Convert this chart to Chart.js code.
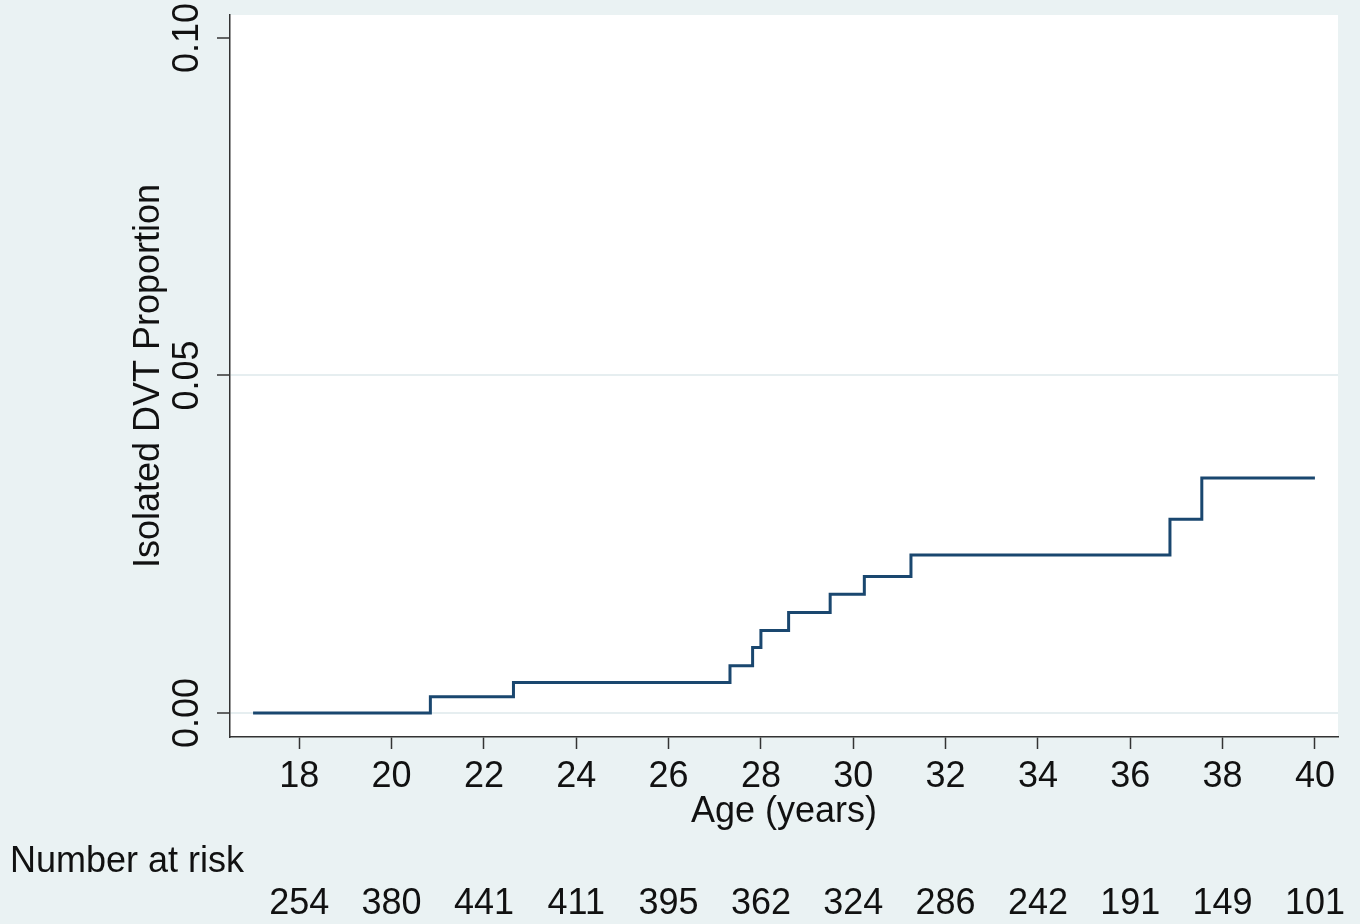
<!DOCTYPE html>
<html>
<head>
<meta charset="utf-8">
<script src="https://cdn.jsdelivr.net/npm/chart.js@4.4.1/dist/chart.umd.min.js"></script>
<style>
  html, body { margin: 0; padding: 0; background: #eaf2f3; }
  #wrap { width: 1360px; height: 924px; }
</style>
</head>
<body>
<div id="wrap"><canvas id="c" width="1360" height="924"></canvas></div>
<script>
// ---- data ----
const eventAges   = [17, 20.84, 22.64, 27.33, 27.82, 28.0, 28.6, 29.5, 30.24, 31.25, 36.86, 37.55, 40];
const proportions = [0, 0.0024, 0.0045, 0.0070, 0.0097, 0.0122, 0.0149, 0.0176, 0.0202, 0.0234, 0.0287, 0.0348, 0.0348];
const xTickValues = [18, 20, 22, 24, 26, 28, 30, 32, 34, 36, 38, 40];
const yTickValues = [0, 0.05, 0.10];
const yTickLabels = ['0.00', '0.05', '0.10'];
const yGridValues = [0, 0.05];
const riskAges    = [18, 20, 22, 24, 26, 28, 30, 32, 34, 36, 38, 40];
const atRisk      = [254, 380, 441, 411, 395, 362, 324, 286, 242, 191, 149, 101];
const xTitle = 'Age (years)';
const yTitle = 'Isolated DVT Proportion';
const riskTitle = 'Number at risk';

const FONT = 'Liberation Sans, Arial, sans-serif';
const BG = '#eaf2f3';
const TXT = '#111111';
const AXIS = '#333333';

const bgPlugin = {
  id: 'bg',
  beforeDraw(chart) {
    const {ctx, chartArea: a} = chart;
    ctx.save();
    ctx.fillStyle = BG;
    ctx.fillRect(0, 0, chart.width, chart.height);
    ctx.fillStyle = '#ffffff';
    ctx.fillRect(a.left, a.top, a.right - a.left, a.bottom - a.top);
    ctx.restore();
  }
};

const riskPlugin = {
  id: 'risk',
  afterDraw(chart) {
    const {ctx} = chart;
    const xs = chart.scales.x;
    ctx.save();
    ctx.font = '36px ' + FONT;
    ctx.fillStyle = TXT;
    ctx.textBaseline = 'middle';
    ctx.textAlign = 'left';
    ctx.fillText(riskTitle, 10, 862);
    ctx.textAlign = 'center';
    riskAges.forEach((age, i) => {
      ctx.fillText(String(atRisk[i]), xs.getPixelForValue(age), 904);
    });
    ctx.restore();
  }
};

const points = eventAges.map((a, i) => ({x: a, y: proportions[i]}));

new Chart(document.getElementById('c'), {
  type: 'line',
  data: {
    datasets: [{
      data: points,
      stepped: true,
      borderColor: '#1a476f',
      borderWidth: 3,
      pointRadius: 0,
      fill: false,
      tension: 0
    }]
  },
  options: {
    responsive: false,
    devicePixelRatio: 1,
    animation: false,
    layout: { padding: { left: 0, right: 22, top: 15, bottom: 87 } },
    plugins: { legend: { display: false }, tooltip: { enabled: false } },
    scales: {
      x: {
        type: 'linear',
        min: 16.5,
        max: 40.5,
        afterBuildTicks(s) { s.ticks = xTickValues.map(v => ({value: v})); },
        afterFit(s) { s.height = 100; s.paddingLeft = 0; s.paddingRight = 0; },
        ticks: {
          font: { family: FONT, size: 36 },
          color: TXT,
          padding: 6,
          maxRotation: 0,
          autoSkip: false,
          callback: v => String(v)
        },
        grid: {
          drawOnChartArea: false,
          drawTicks: true,
          tickLength: 12,
          tickColor: AXIS,
          tickWidth: 1.5
        },
        border: { display: true, color: AXIS, width: 1.5 },
        title: {
          display: true,
          text: xTitle,
          font: { family: FONT, size: 36 },
          color: TXT,
          padding: { top: 0, bottom: 3 }
        }
      },
      y: {
        type: 'linear',
        min: -0.00356,
        max: 0.1034,
        afterBuildTicks(s) { s.ticks = yTickValues.map(v => ({value: v})); },
        afterFit(s) { s.width = 230; s.paddingTop = 0; s.paddingBottom = 0; },
        ticks: {
          font: { family: FONT, size: 36 },
          color: TXT,
          padding: -6,
          minRotation: 90,
          maxRotation: 90,
          crossAlign: 'center',
          autoSkip: false,
          callback: (v) => yTickLabels[yTickValues.findIndex(t => Math.abs(t - v) < 1e-9)]
        },
        grid: {
          drawOnChartArea: true,
          color: (c) => (c.tick && yGridValues.some(g => Math.abs(g - c.tick.value) < 1e-9)) ? '#e6eef0' : 'rgba(0,0,0,0)',
          lineWidth: 2,
          drawTicks: true,
          tickLength: 13,
          tickColor: AXIS,
          tickWidth: 1.5
        },
        border: { display: true, color: AXIS, width: 1.5 },
        title: {
          display: true,
          text: yTitle,
          font: { family: FONT, size: 36 },
          color: TXT,
          padding: { top: 127, bottom: 0 }
        }
      }
    }
  },
  plugins: [bgPlugin, riskPlugin]
});
</script>
</body>
</html>
